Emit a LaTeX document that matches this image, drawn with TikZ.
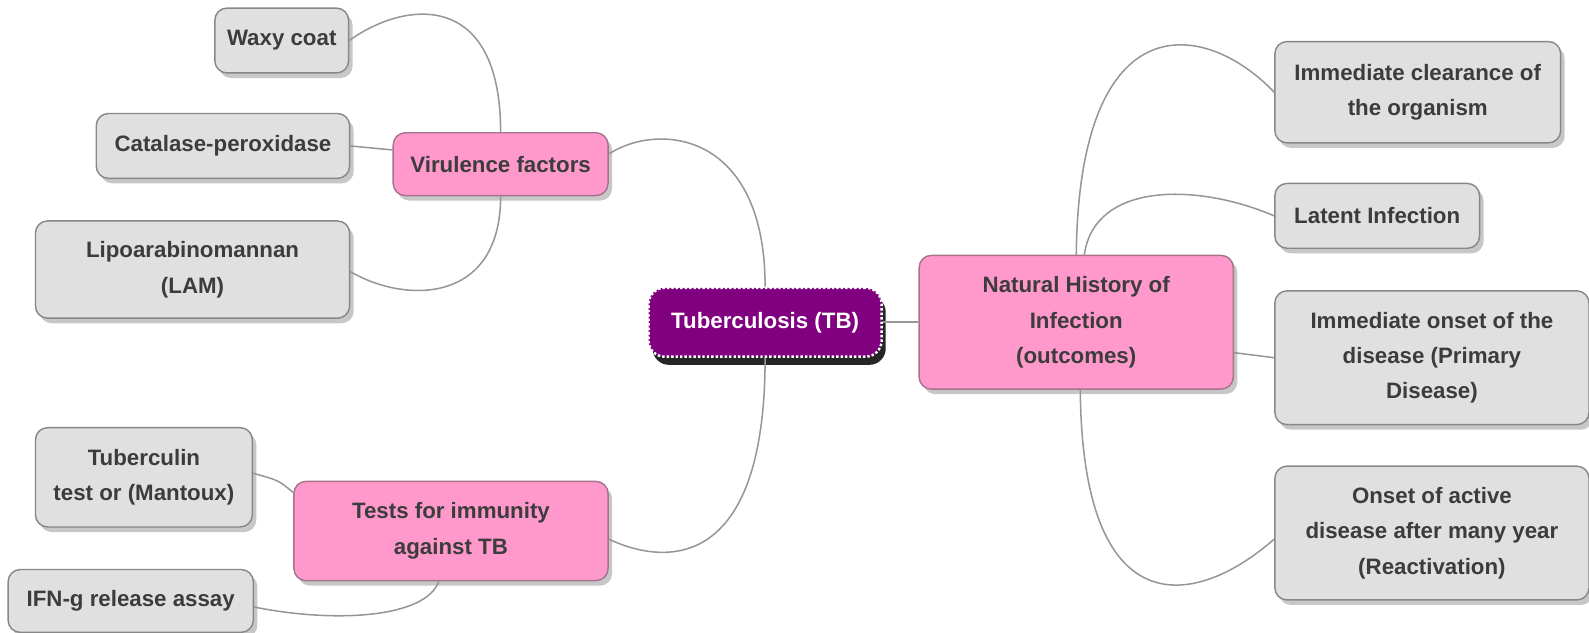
\documentclass[tikz,border=0pt]{standalone}
\usepackage{fontspec}
\setmainfont{Liberation Sans}
\usetikzlibrary{shadows}
\definecolor{pinkbox}{RGB}{255,153,204}
\definecolor{pinkedge}{RGB}{165,115,140}
\definecolor{greybox}{RGB}{224,224,224}
\definecolor{greyedge}{RGB}{135,135,135}
\definecolor{tbpurple}{RGB}{128,0,128}
\definecolor{linkgrey}{RGB}{150,150,150}
\definecolor{textgrey}{RGB}{60,60,60}

\begin{document}
\begin{tikzpicture}[x=0.5pt,y=-0.5pt,
  topic/.style={rounded corners=6pt, draw=greyedge, line width=0.7pt, fill=greybox, align=center, inner sep=0pt,
    font=\bfseries\fontsize{11}{17.5}\selectfont, text=textgrey,
    drop shadow={shadow xshift=2pt, shadow yshift=-2.5pt, fill=black, opacity=0.22}},
  branch/.style={topic, fill=pinkbox, draw=pinkedge},
  root/.style={rounded corners=8pt, fill=tbpurple, draw=white, densely dotted, line width=1.2pt, align=center, inner sep=0pt,
    font=\bfseries\fontsize{11}{17.5}\selectfont, text=white,
    drop shadow={shadow xshift=2pt, shadow yshift=-4pt, fill=black, opacity=0.85}},
  link/.style={draw=linkgrey, line width=0.75pt}]

\useasboundingbox (0,0) rectangle (1568,624);

\node[topic, minimum width=66pt, minimum height=32pt] (waxy) at (278,40) {Waxy coat};
\node[topic, minimum width=125pt, minimum height=32pt] (catalase) at (220,144) {Catalase-peroxidase};
\node[topic, minimum width=155pt, minimum height=48pt] (lam) at (190,266) {Lipoarabinomannan\\(LAM)};
\node[branch, minimum width=106pt, minimum height=31pt] (virulence) at (494,162) {Virulence factors};
\node[root, minimum width=115pt, minimum height=34pt] (tb) at (755,318) {Tuberculosis (TB)};
\node[branch, minimum width=155pt, minimum height=66pt] (history) at (1062,318) {Natural History of\\Infection\\(outcomes)};
\node[topic, minimum width=141pt, minimum height=50pt] (clearance) at (1399,91) {Immediate clearance of\\the organism};
\node[topic, minimum width=101pt, minimum height=32pt] (latent) at (1359,213) {Latent Infection};
\node[topic, minimum width=155pt, minimum height=66pt] (primary) at (1413,353) {Immediate onset of the\\disease (Primary\\Disease)};
\node[topic, minimum width=155pt, minimum height=66pt] (reactivation) at (1413,526) {Onset of active\\disease after many year\\(Reactivation)};
\node[branch, minimum width=155pt, minimum height=49pt] (tests) at (445,524) {Tests for immunity\\against TB};
\node[topic, minimum width=107pt, minimum height=49pt] (tuberculin) at (142,471) {Tuberculin\\test or (Mantoux)};
\node[topic, minimum width=121pt, minimum height=31pt] (ifn) at (129,593) {IFN-g release assay};

\path[link] (tb.north) .. controls (755,130) and (650,120) .. ([yshift=5pt]virulence.east);
\path[link] (tb.south) .. controls (755,560) and (660,560) .. ([yshift=-4pt]tests.east);
\path[link] (tb) -- (history);

\path[link] (virulence.north) .. controls (494,-10) and (400,0) .. (waxy.east);
\path[link] ([yshift=7pt]virulence.west) -- (catalase.east);
\path[link] (virulence.south) .. controls (494,300) and (400,300) .. ([yshift=-1pt]lam.east);

\path[link] ([yshift=19pt]tests.west) .. controls (275,474) .. ([yshift=2pt]tuberculin.east);
\path[link] ([xshift=-6pt]tests.south) .. controls (420,610) and (330,615) .. ([yshift=-3pt]ifn.east);

\path[link] (history.north) .. controls (1065,0) and (1190,20) .. (clearance.west);
\path[link] ([xshift=4pt]history.north) .. controls (1080,180) and (1180,180) .. (latent.west);
\path[link] ([yshift=-15pt]history.east) -- (primary.west);
\path[link] ([xshift=2pt]history.south) .. controls (1068,620) and (1180,600) .. ([yshift=-3pt]reactivation.west);

\end{tikzpicture}
\end{document}
